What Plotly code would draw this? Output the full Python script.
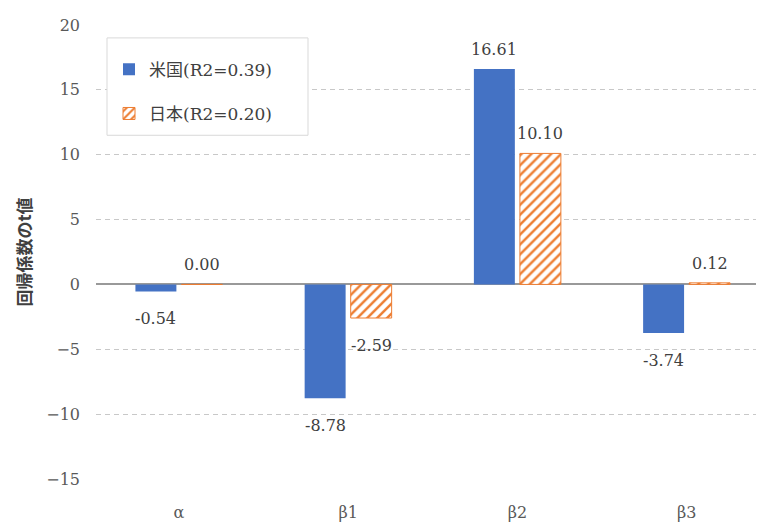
import plotly.graph_objects as go

# Regression coefficients and their t-values
categories = ["α", "β1", "β2", "β3"]
us_tvalues = [-0.54, -8.78, 16.61, -3.74]
jp_tvalues = [0.00, -2.59, 10.10, 0.12]
us_name = "米国(R2=0.39)"
jp_name = "日本(R2=0.20)"
y_ticks = [-15, -10, -5, 0, 5, 10, 15, 20]

BLUE = "#4472C4"
ORANGE = "#ED7D31"
TEXT = "#404040"
SERIF = "DejaVu Serif"
MIXED = "DejaVu Serif, Noto Sans CJK JP"

fig = go.Figure()
fig.add_trace(go.Bar(
    x=categories, y=us_tvalues, name=us_name, legendgroup="us",
    marker=dict(color=BLUE, line=dict(width=0)),
    hoverinfo="skip",
))
fig.add_trace(go.Bar(
    x=categories, y=jp_tvalues, name=jp_name, legendgroup="jp",
    marker=dict(
        color=ORANGE,
        line=dict(color=ORANGE, width=1),
        pattern=dict(shape="/", fillmode="replace", bgcolor="white",
                     fgcolor=ORANGE, size=7, solidity=0.35),
    ),
    hoverinfo="skip",
))

# Value labels just beyond the end of each bar
for series, shift in ((us_tvalues, -23), (jp_tvalues, 23)):
    for cat, val in zip(categories, series):
        pos = val >= 0
        fig.add_annotation(
            x=cat, y=val, text=f"{val:.2f}", showarrow=False,
            xshift=shift, yshift=8 if pos else -16,
            yanchor="bottom" if pos else "top",
            font=dict(family=SERIF, size=16, color=TEXT),
        )

# Legend frame
fig.add_shape(
    type="rect", xref="paper", yref="paper", layer="above",
    x0=(107 - 96) / 660, x1=(308 - 96) / 660,
    y0=1 - (136 - 25) / 457, y1=1 - (38 - 25) / 457,
    line=dict(color="#d9d9d9", width=1), fillcolor="white",
)

fig.update_layout(
    width=758, height=524,
    margin=dict(l=96, r=2, t=25, b=42),
    paper_bgcolor="white", plot_bgcolor="white",
    barmode="group", bargap=0.456, bargroupgap=0.11,
    showlegend=True,
    legend=dict(
        x=(109 - 96) / 660, y=1 - (52 - 25) / 457,
        xanchor="left", yanchor="top",
        bgcolor="rgba(0,0,0,0)", borderwidth=0,
        font=dict(family=MIXED, size=17, color=TEXT),
        traceorder="grouped", tracegroupgap=19,
    ),
    font=dict(family=SERIF, color=TEXT),
)
fig.update_xaxes(
    range=[-0.49, 3.41], showgrid=False, showline=False, ticks="",
    tickfont=dict(family=SERIF, size=16, color="#595959"),
    ticklabelstandoff=22,
)
fig.update_yaxes(
    range=[-15, 20], tickvals=y_ticks,
    showgrid=True, gridcolor="#c8c8c8", griddash="5px,4px", gridwidth=1,
    zeroline=True, zerolinecolor="#999999", zerolinewidth=1.5,
    showline=False, ticks="",
    tickfont=dict(family=SERIF, size=16, color="#595959"),
    ticklabelstandoff=15,
    title=dict(text="<b>回帰係数のt値</b>", standoff=10,
               font=dict(family="Noto Sans CJK JP", size=17, color=TEXT)),
)

fig.write_html("out.html")
